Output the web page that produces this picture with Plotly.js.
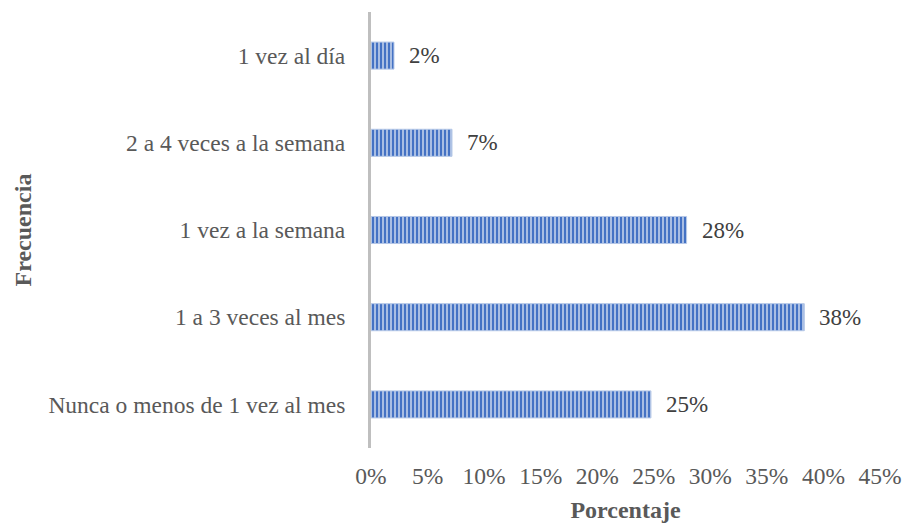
<!DOCTYPE html>
<html><head><meta charset="utf-8">
<script src="https://cdn.plot.ly/plotly-3.0.1.min.js"></script>
<style>html,body{margin:0;padding:0;background:#fff}</style>
</head><body><div id="chart" style="width:904px;height:525px"></div>
<script>
const categories = ["Nunca o menos de 1 vez al mes", "1 a 3 veces al mes", "1 vez a la semana", "2 a 4 veces a la semana", "1 vez al día"];
const values = [0.2475, 0.383, 0.279, 0.0716, 0.0203];
const valueLabels = ["25%", "38%", "28%", "7%", "2%"];
const xTicks = [0, 0.05, 0.10, 0.15, 0.20, 0.25, 0.30, 0.35, 0.40, 0.45];

const font = "'Liberation Serif', 'Times New Roman', serif";
const trace = {
  type: 'bar', orientation: 'h', x: values, y: categories,
  marker: {color: '#4472c4', line: {color: '#b4c7e7', width: 1},
    pattern: {shape: '|', fgcolor: '#4472c4', bgcolor: '#b4c7e7', size: 4, solidity: 0.55}},
  hoverinfo: 'none'
};
const annotations = values.map((v, i) => ({
  x: v, y: categories[i], xref: 'x', yref: 'y', text: valueLabels[i],
  showarrow: false, xanchor: 'left', xshift: 13,
  font: {family: font, size: 23, color: '#404040'}
}));
const layout = {
  width: 904, height: 525,
  margin: {l: 371, r: 24, t: 12, b: 77},
  paper_bgcolor: '#fff', plot_bgcolor: '#fff',
  bargap: 0.69, showlegend: false,
  font: {family: font, size: 23.5, color: '#595959'},
  xaxis: {range: [0, 0.45], tickvals: xTicks, tickformat: '.0%', showgrid: false, zeroline: false,
    showline: false, ticks: '', ticklabelstandoff: 11, fixedrange: true,
    title: {text: '<b>Porcentaje</b>', font: {family: font, size: 24, color: '#595959'}, standoff: 13}},
  yaxis: {categoryorder: 'array', categoryarray: categories, showgrid: false, zeroline: false,
    showline: true, linecolor: '#bfbfbf', linewidth: 3, ticks: '', ticklabelstandoff: 18, fixedrange: true,
    title: {text: '<b>Frecuencia</b>', font: {family: font, size: 24, color: '#595959'}, standoff: 10}},
  annotations: annotations
};
Plotly.newPlot('chart', [trace], layout, {displayModeBar: false, staticPlot: true});
</script></body></html>
